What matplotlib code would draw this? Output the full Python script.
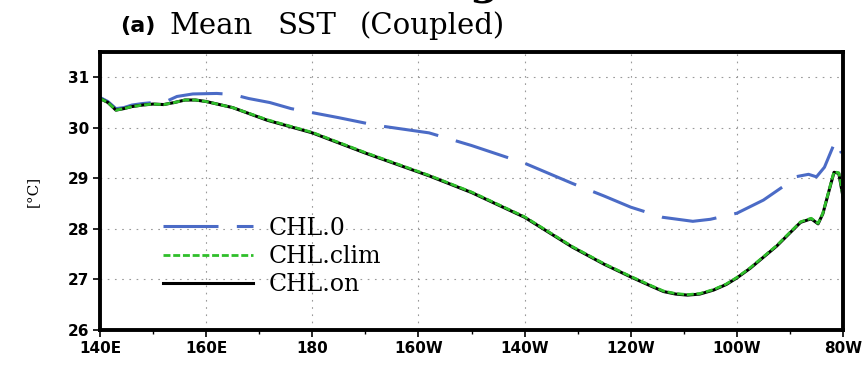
import numpy as np
import matplotlib
matplotlib.use('Agg')
import matplotlib.pyplot as plt

# longitude in degrees east (140E .. 80W = 280)
lon_on = [140, 141.5, 143, 144.5, 146, 148, 150, 152, 154, 156, 158, 160, 165, 171.5, 180,
          190, 202, 210, 220, 229, 235, 240, 244, 246.2, 248.5, 250.7, 253, 255.6, 258,
          260, 262.5, 265, 267.5, 269.6, 272, 274, 275.3, 276.2, 277.4, 278.3, 279.2, 280]
sst_on = [30.58, 30.5, 30.35, 30.38, 30.42, 30.45, 30.47, 30.46, 30.5, 30.55, 30.55, 30.52, 30.4, 30.15, 29.9,
          29.5, 29.05, 28.72, 28.23, 27.64, 27.3, 27.05, 26.86, 26.76, 26.71, 26.69, 26.71, 26.79, 26.9,
          27.03, 27.22, 27.44, 27.66, 27.88, 28.13, 28.2, 28.1, 28.3, 28.77, 29.12, 29.1, 28.63]
# CHL.clim is almost identical to CHL.on
sst_clim = [30.58, 30.5, 30.35, 30.38, 30.42, 30.45, 30.47, 30.46, 30.5, 30.55, 30.55, 30.52, 30.4, 30.16, 29.91,
            29.51, 29.06, 28.73, 28.24, 27.65, 27.31, 27.06, 26.87, 26.77, 26.72, 26.70, 26.72, 26.80, 26.91,
            27.04, 27.23, 27.45, 27.67, 27.89, 28.14, 28.21, 28.11, 28.31, 28.78, 29.13, 29.11, 28.64]

lon_0 = [140, 141.5, 143, 144.5, 146, 148, 150, 152, 154.5, 157.5, 162, 165, 168, 172, 176, 179,
         185, 192, 202, 210, 220, 229, 235, 240, 246, 251.7, 255, 260, 265, 268.6, 271, 273.5,
         275, 276.5, 278.6, 279.7]
sst_0 = [30.6, 30.52, 30.38, 30.4, 30.45, 30.48, 30.5, 30.5, 30.62, 30.67, 30.68, 30.66, 30.58, 30.5, 30.38, 30.32,
         30.2, 30.05, 29.9, 29.65, 29.3, 28.9, 28.65, 28.43, 28.23, 28.15, 28.19, 28.31, 28.57, 28.83, 29.03, 29.08,
         29.03, 29.22, 29.75, 29.5]

xticks = [140, 160, 180, 200, 220, 240, 260, 280]
xticklabels = ['140E', '160E', '180', '160W', '140W', '120W', '100W', '80W']
yticks = [26, 27, 28, 29, 30, 31]

fig = plt.figure(figsize=(8.65, 3.68), dpi=100)
ax = fig.add_axes([0.1156, 0.1033, 0.859, 0.7554])

ax.plot(lon_0, sst_0, color='#4b6bc6', lw=2.2, dashes=(18, 6), label='CHL.0')
ax.plot(lon_on, sst_on, color='black', lw=2.2, label='CHL.on')
ax.plot(lon_on, sst_clim, color='#2fbf2a', lw=2.0, dashes=(2.5, 1), label='CHL.clim')

ax.set_xlim(140, 280)
ax.set_ylim(26, 31.5)
ax.set_xticks(xticks)
ax.set_xticklabels(xticklabels)
ax.set_yticks(yticks)
ax.set_xticks(np.arange(150, 280, 20), minor=True)
ax.tick_params(which='major', direction='out', length=5, width=1.2, labelsize=11, pad=3)
ax.tick_params(which='minor', direction='out', length=3, width=1)
for lab in ax.get_xticklabels() + ax.get_yticklabels():
    lab.set_fontweight('bold')
ax.grid(True, which='major', color='#999999', lw=0.8, linestyle=(0, (1.5, 5)))
for sp in ax.spines.values():
    sp.set_linewidth(2.8)

ax.set_ylabel('[°C]', family='DejaVu Serif', fontsize=11, labelpad=20)

# legend: order as in the picture
h, l = ax.get_legend_handles_labels()
order = [0, 2, 1]
ax.legend([h[i] for i in order], [l[i] for i in order], loc='center left',
          bbox_to_anchor=(0.085, 0.265), frameon=False, handlelength=3.8,
          handletextpad=0.65, labelspacing=0.22, borderpad=0, borderaxespad=0,
          prop={'family': 'DejaVu Serif', 'size': 17})

fig.text(0.139, 0.93, '(a)', fontsize=16, fontweight='bold', va='center', ha='left')
# title words spread like the original wide lettering
for word, xw in [('Mean', 0.196), ('SST', 0.321), ('(Coupled)', 0.416)]:
    fig.text(xw, 0.93, word, family='DejaVu Serif', fontsize=21, va='center', ha='left')
# cut-off heading above the panel (only its descender shows)
fig.text(0.543, 1.015, 'g', family='DejaVu Serif', fontsize=30, fontweight='bold',
         va='baseline', ha='left')

fig.savefig('out.png', dpi=100)
